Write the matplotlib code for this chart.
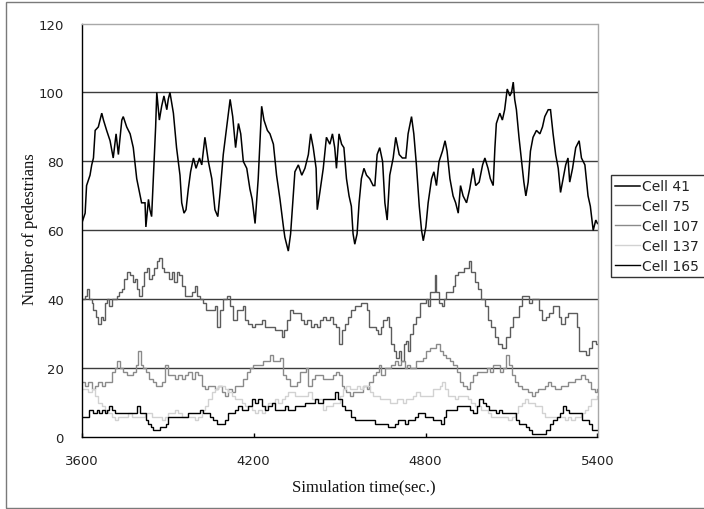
import matplotlib
matplotlib.use("Agg")
import matplotlib.pyplot as plt
from matplotlib.patches import Rectangle

# ---------------- data ----------------
t41 = [3600, 3612, 3617, 3629, 3635, 3641, 3647, 3658, 3670, 3676, 3687, 3699, 3710, 3720, 3728, 3740,
       3745, 3757, 3769, 3780, 3792, 3804, 3809, 3821, 3824, 3833, 3838, 3844, 3850, 3858, 3862, 3871,
       3879, 3887, 3897, 3902, 3908, 3920, 3931, 3943, 3949, 3957, 3964, 3972, 3980, 3990, 3999, 4011,
       4019, 4030, 4042, 4054, 4065, 4075, 4083, 4094, 4106, 4118, 4127, 4137, 4147, 4155, 4164, 4176,
       4187, 4195, 4205, 4216, 4228, 4236, 4248, 4257, 4269, 4280, 4292, 4304, 4309, 4321, 4329, 4338,
       4344, 4356, 4368, 4379, 4391, 4399, 4408, 4418, 4422, 4431,
       4443, 4454, 4466, 4475, 4483, 4489, 4498, 4507, 4515, 4524, 4533, 4541, 4547, 4553, 4561, 4568,
       4576, 4585, 4594, 4605, 4617, 4623, 4631, 4640, 4650, 4658, 4666, 4675, 4687, 4696, 4708, 4719,
       4731, 4739, 4751, 4759, 4768, 4778, 4786, 4792, 4801, 4809, 4821, 4829, 4838, 4847, 4859, 4868,
       4875, 4885, 4896, 4905, 4914, 4922, 4931, 4943, 4954, 4966, 4975, 4987, 4999, 5007, 5018, 5026,
       5036, 5042, 5047, 5059, 5068, 5076, 5085, 5094, 5100, 5106, 5111, 5117, 5126, 5135, 5143, 5150,
       5158, 5166, 5175, 5187, 5199, 5208, 5216, 5228, 5236, 5245, 5254, 5263, 5271, 5280, 5289, 5297,
       5303, 5313, 5324, 5336, 5344, 5356, 5367, 5375, 5385, 5394, 5400]
v41 = [62, 65, 73, 76, 79, 81, 89, 90, 94, 92, 89, 86, 81, 88, 82, 92,
       93, 90, 88, 84, 75, 70, 68, 68, 61, 69, 66, 64, 75, 90, 100, 92,
       96, 99, 95, 98, 100, 94, 84, 76, 68, 65, 66, 72, 77, 81, 78, 81,
       79, 87, 80, 75, 66, 64, 71, 82, 90, 98, 93, 84, 91, 88, 80, 78,
       72, 69, 62, 75, 96, 92, 89, 88, 85, 76, 69, 61, 58, 54, 59, 70,
       77, 79, 76, 78, 82, 88, 84, 78, 66, 71,
       78, 87, 85, 88, 84, 78, 88, 85, 84, 75, 70, 67, 59, 56, 59, 68,
       75, 78, 76, 75, 73, 73, 82, 84, 80, 68, 63, 76, 81, 87, 82, 81,
       81, 88, 93, 88, 79, 67, 60, 57, 61, 68, 75, 77, 73, 80, 83, 86,
       83, 75, 70, 68, 65, 73, 70, 68, 72, 78, 73, 74, 79, 81, 78, 75,
       73, 84, 91, 94, 92, 95, 101, 99, 100, 103, 98, 95, 87, 80, 74, 70,
       74, 83, 87, 89, 88, 90, 93, 95, 95, 88, 82, 78, 71, 75, 79, 81,
       74, 78, 84, 86, 81, 79, 70, 67, 60, 63, 62]

t75 = [3600, 3612, 3617, 3627, 3635, 3641, 3650, 3658, 3666, 3676, 3681, 3687, 3697, 3705, 3713, 3722,
       3731, 3740, 3748, 3757, 3769, 3778, 3786, 3794, 3801, 3809, 3817, 3827, 3836, 3844, 3852, 3862,
       3871, 3879, 3887, 3897, 3906, 3914, 3922, 3931, 3941, 3949, 3961, 3972, 3984, 3996, 4004, 4013,
       4024, 4034, 4045, 4057, 4065, 4073, 4083, 4094, 4106, 4118, 4129, 4141, 4152, 4162, 4170, 4181,
       4193, 4205, 4216, 4228, 4240, 4251, 4263, 4275, 4286, 4298, 4306, 4315, 4327, 4338, 4352, 4364,
       4376, 4387, 4399, 4411, 4422,
       4431, 4443, 4454, 4466, 4478, 4489, 4498, 4507, 4518, 4530, 4541, 4553, 4565, 4576, 4588, 4594,
       4603, 4615, 4626, 4635, 4643, 4652, 4664, 4673, 4681, 4689, 4698, 4708, 4716, 4724, 4731, 4739,
       4747, 4757, 4768, 4780, 4792, 4801, 4809, 4817, 4826, 4833, 4838, 4847, 4856, 4864, 4873, 4885,
       4894, 4902, 4914, 4925, 4933, 4943, 4952, 4960, 4972, 4983, 4995, 5007, 5018, 5030, 5042, 5053,
       5065, 5073, 5082, 5094, 5106, 5117, 5126, 5138, 5150, 5161, 5173, 5185, 5196, 5208, 5220, 5231,
       5243, 5254, 5264, 5274, 5286, 5297, 5309, 5321, 5329, 5336, 5347, 5359, 5371, 5382, 5394, 5400]
v75 = [40, 41, 43, 40, 39, 37, 35, 33, 35, 34, 39, 40, 38, 40, 40, 41,
       42, 43, 46, 48, 47, 45, 46, 43, 41, 44, 48, 49, 46, 47, 49, 51,
       52, 49, 48, 48, 46, 48, 45, 48, 47, 44, 41, 41, 42, 44, 41, 40,
       39, 37, 37, 37, 38, 32, 37, 40, 41, 38, 34, 37, 37, 38, 34, 33,
       32, 33, 33, 34, 32, 32, 32, 31, 31, 29, 31, 34, 37, 36, 36, 34,
       33, 34, 32, 33, 32,
       34, 35, 34, 35, 33, 32, 27, 31, 33, 35, 37, 38, 38, 39, 39, 37,
       32, 32, 31, 30, 32, 34, 35, 32, 27, 25, 23, 25, 22, 27, 28, 25,
       30, 33, 35, 39, 39, 40, 38, 42, 42, 47, 42, 39, 38, 40, 42, 42,
       44, 47, 48, 48, 49, 49, 51, 48, 45, 43, 40, 38, 34, 32, 29, 27,
       26, 26, 29, 32, 35, 35, 38, 41, 41, 39, 40, 40, 37, 34, 35, 36,
       38, 38, 35, 33, 35, 36, 36, 36, 32, 25, 25, 24, 26, 28, 27, 27]

t107 = [3600, 3612, 3623, 3635, 3647, 3658, 3670, 3681, 3693, 3705, 3716, 3724, 3734, 3745, 3757, 3769,
        3780, 3790, 3798, 3806, 3815, 3824, 3836, 3848, 3859, 3871, 3879, 3891, 3902, 3914, 3926, 3937,
        3949, 3960, 3972, 3984, 3995, 4007, 4019, 4030, 4042, 4054, 4065, 4077, 4088, 4100, 4112, 4123,
        4135, 4147, 4158, 4164, 4176, 4187, 4199, 4211, 4222, 4234, 4245, 4257, 4269, 4280, 4292, 4301,
        4313, 4327, 4338, 4350, 4362, 4374, 4383, 4391, 4402, 4414, 4425,
        4443, 4454, 4466, 4478, 4489, 4498, 4507, 4515, 4524, 4536, 4547, 4559, 4571, 4582, 4594, 4603,
        4615, 4626, 4638, 4646, 4658, 4669, 4681, 4693, 4704, 4716, 4728, 4736, 4745, 4757, 4768, 4780,
        4792, 4803, 4815, 4826, 4838, 4850, 4861, 4873, 4885, 4896, 4908, 4919, 4931, 4943, 4954, 4966,
        4978, 4989, 5001, 5013, 5024, 5036, 5047, 5059, 5071, 5082, 5092, 5100, 5111, 5123, 5135, 5146,
        5158, 5170, 5181, 5193, 5204, 5216, 5228, 5239, 5251, 5263, 5274, 5286, 5297, 5309, 5321, 5332,
        5344, 5356, 5367, 5379, 5390, 5400]
v107 = [16, 15, 16, 14, 15, 16, 15, 16, 16, 19, 20, 22, 20, 19, 18, 18,
        19, 21, 25, 21, 20, 19, 17, 16, 15, 15, 16, 21, 18, 18, 17, 18,
        17, 18, 19, 17, 19, 18, 15, 14, 15, 15, 14, 15, 13, 12, 14, 13,
        15, 15, 15, 17, 19, 20, 21, 21, 21, 22, 22, 24, 22, 22, 23, 18,
        17, 15, 15, 16, 19, 19, 20, 15, 17, 18, 18,
        17, 17, 17, 18, 19, 18, 15, 14, 13, 12, 13, 13, 13, 15, 14, 16,
        18, 19, 21, 18, 20, 20, 21, 22, 21, 22, 20, 21, 20, 20, 22, 22,
        23, 25, 26, 26, 27, 25, 24, 23, 22, 21, 19, 16, 15, 14, 16, 18,
        19, 19, 19, 20, 19, 21, 21, 19, 20, 24, 21, 18, 16, 15, 14, 14,
        13, 12, 13, 14, 14, 15, 16, 15, 14, 14, 15, 15, 16, 16, 17, 17,
        18, 17, 16, 14, 13, 14]

t137 = [3600, 3612, 3623, 3635, 3647, 3658, 3670, 3681, 3693, 3705, 3716, 3728, 3740, 3751, 3763, 3774,
        3786, 3798, 3809, 3821, 3833, 3844, 3856, 3867, 3879, 3891, 3902, 3914, 3926, 3937, 3949, 3960,
        3972, 3984, 3995, 4007, 4019, 4030, 4042, 4054, 4065, 4077, 4088, 4100, 4112, 4123, 4135, 4147,
        4158, 4170, 4181, 4193, 4205, 4216, 4228, 4239, 4251, 4263, 4274, 4286, 4298, 4309, 4321, 4332,
        4344, 4356, 4367, 4379, 4391, 4402, 4414, 4425,
        4443, 4454, 4466, 4478, 4489, 4501, 4512, 4524, 4536, 4547, 4559, 4571, 4582, 4594, 4606, 4617,
        4629, 4640, 4652, 4664, 4675, 4687, 4699, 4710, 4722, 4733, 4745, 4757, 4768, 4780, 4792, 4803,
        4815, 4826, 4838, 4850, 4859, 4867, 4879, 4890, 4902, 4914, 4925, 4937, 4949, 4960, 4972, 4983,
        4995, 5007, 5018, 5030, 5041, 5053, 5065, 5076, 5088, 5100, 5111, 5123, 5135, 5146, 5158, 5170,
        5181, 5193, 5205, 5216, 5228, 5239, 5251, 5262, 5274, 5286, 5297, 5309, 5321, 5332, 5344, 5356,
        5367, 5379, 5390, 5400]
v137 = [14, 14, 13, 14, 12, 10, 9, 8, 7, 6, 5, 6, 6, 6, 7, 6,
        6, 6, 6, 7, 7, 6, 6, 6, 5, 6, 7, 7, 8, 7, 6, 6,
        6, 6, 5, 6, 8, 9, 11, 13, 14, 15, 15, 14, 13, 12, 11, 11,
        10, 9, 9, 8, 7, 8, 7, 9, 10, 10, 11, 10, 11, 12, 13, 13,
        12, 12, 12, 12, 13, 11, 11, 11,
        8, 9, 9, 10, 10, 12, 14, 15, 14, 14, 15, 14, 15, 15, 13, 12,
        12, 11, 11, 11, 10, 10, 11, 11, 10, 11, 11, 12, 13, 12, 12, 12,
        12, 14, 14, 15, 16, 14, 12, 12, 11, 12, 12, 12, 11, 10, 9, 9,
        8, 8, 7, 6, 6, 6, 6, 6, 5, 6, 7, 9, 10, 11, 10, 10,
        9, 9, 7, 6, 6, 6, 6, 6, 6, 5, 6, 5, 6, 6, 7, 8,
        9, 11, 11, 12]

t165 = [3600, 3617, 3626, 3640, 3652, 3661, 3670, 3681, 3689, 3696, 3705, 3716, 3731, 3745, 3757, 3769,
        3780, 3792, 3804, 3815, 3824, 3833, 3841, 3848, 3862, 3873, 3885, 3894, 3902, 3920, 3937, 3955,
        3972, 3984, 4001, 4013, 4024, 4036, 4048, 4059, 4071, 4088, 4100, 4112, 4123, 4135, 4147, 4158,
        4170, 4181, 4193, 4205, 4216, 4228, 4240, 4251, 4263, 4274, 4286, 4298, 4309, 4321, 4333, 4344,
        4356, 4368, 4379, 4391, 4402, 4414, 4426,
        4443, 4454, 4472, 4483, 4495, 4507, 4518, 4530, 4541, 4553, 4565, 4576, 4587, 4600, 4611, 4623,
        4635, 4646, 4658, 4669, 4681, 4693, 4704, 4716, 4728, 4739, 4751, 4762, 4774, 4786, 4797, 4809,
        4826, 4844, 4855, 4864, 4873, 4890, 4908, 4925, 4943, 4954, 4966, 4978, 4987, 4999, 5010, 5022,
        5033, 5045, 5057, 5068, 5080, 5091, 5103, 5115, 5126, 5138, 5150, 5161, 5173, 5185, 5196, 5208,
        5222, 5233, 5245, 5257, 5268, 5278, 5289, 5301, 5312, 5324, 5336, 5347, 5359, 5371, 5382, 5400]
v165 = [6, 6, 8, 7, 8, 7, 8, 7, 8, 9, 8, 7, 7, 7, 7, 7,
        7, 9, 7, 7, 5, 4, 3, 2, 2, 3, 3, 4, 6, 6, 6, 6,
        7, 7, 7, 8, 7, 7, 6, 5, 4, 4, 5, 7, 7, 8, 9, 8,
        8, 9, 11, 10, 11, 9, 8, 9, 10, 8, 8, 8, 9, 8, 8, 9,
        9, 9, 10, 10, 10, 11, 10,
        11, 11, 11, 13, 11, 9, 8, 8, 6, 5, 5, 5, 5, 5, 5, 4,
        4, 4, 4, 3, 3, 4, 5, 5, 4, 5, 5, 6, 7, 7, 6, 6,
        5, 5, 4, 6, 8, 8, 9, 9, 9, 8, 7, 9, 11, 10, 9, 8,
        8, 7, 8, 7, 7, 7, 7, 5, 4, 4, 3, 2, 1, 1, 1, 1,
        2, 4, 5, 6, 7, 9, 8, 7, 7, 7, 7, 5, 5, 4, 2, 2]

series_names = ["Cell 41", "Cell 75", "Cell 107", "Cell 137", "Cell 165"]
x_ticks = [3600, 4200, 4800, 5400]
y_ticks = [0, 20, 40, 60, 80, 100, 120]

# ---------------- figure ----------------
W, H = 704, 510
fig = plt.figure(figsize=(W / 100, H / 100), dpi=100, facecolor="white")

# outer chart frame
fig.patches.append(Rectangle((5.5 / W, 1.5 / H), 2.0, (H - 4.5) / H, transform=fig.transFigure,
                             fill=False, edgecolor="#7a7a7a", linewidth=1.0, zorder=0))

ax = fig.add_axes([81.7 / W, 1 - 438.3 / H, (597.5 - 81.7) / W, (438.3 - 24.5) / H])
ax.set_facecolor("white")

colors = ["#000000", "#5c5c5c", "#8a8a8a", "#d2d2d2", "#000000"]
widths = [1.1, 1.0, 1.0, 1.0, 1.0]
data = [(t41, v41), (t75, v75), (t107, v107), (t137, v137), (t165, v165)]
for i, (tt, vv) in enumerate(data):
    ds = "default" if i == 0 else "steps-post"
    ax.plot(tt, vv, color=colors[i], lw=widths[i], drawstyle=ds, label=series_names[i],
            solid_joinstyle="miter")

ax.set_xlim(3600, 5400)
ax.set_ylim(0, 120)
ax.set_xticks(x_ticks)
ax.set_yticks(y_ticks)
ax.set_axisbelow(True)
for yv in y_ticks[1:-1]:
    ax.axhline(yv, color="#3c3c3c", lw=1.0, zorder=0.5)

for s in ["left", "bottom"]:
    ax.spines[s].set_color("black")
    ax.spines[s].set_linewidth(1.0)
for s in ["top", "right"]:
    ax.spines[s].set_color("#a8a8a8")
    ax.spines[s].set_linewidth(1.0)

tick_font = "DejaVu Sans"
ax.tick_params(axis="x", direction="in", length=3, width=1, color="black", pad=12,
               labelsize=9.5, labelcolor="#222222")
ax.tick_params(axis="y", length=0, pad=13, labelsize=9.5, labelcolor="#222222")
for lab in ax.get_xticklabels() + ax.get_yticklabels():
    lab.set_family(tick_font)

ax.set_xlabel("Simulation time(sec.)", family="Liberation Serif", fontsize=12, color="#111111")
ax.set_ylabel("Number of pedestrians", family="Liberation Serif", fontsize=12, color="#111111")
ax.xaxis.set_label_coords((364 - 81.7) / 515.8, -(479 - 438.3) / 413.8)
ax.yaxis.set_label_coords((38 - 81.7) / 515.8, 0.505)

leg = fig.legend(loc="upper left", bbox_to_anchor=(610.7 / W, 1 - 176 / H, 115 / W, 0.0),
                 mode="expand",
                 prop={"family": "DejaVu Sans", "size": 10}, frameon=True, fancybox=False,
                 shadow=False, handlelength=1.8, handletextpad=0.15, borderpad=0.32,
                 labelspacing=0.42, borderaxespad=0.0)
leg.get_frame().set_edgecolor("black")
leg.get_frame().set_linewidth(1.0)
for txt in leg.get_texts():
    txt.set_color("#222222")

fig.savefig("out.png", dpi=100, facecolor="white")
